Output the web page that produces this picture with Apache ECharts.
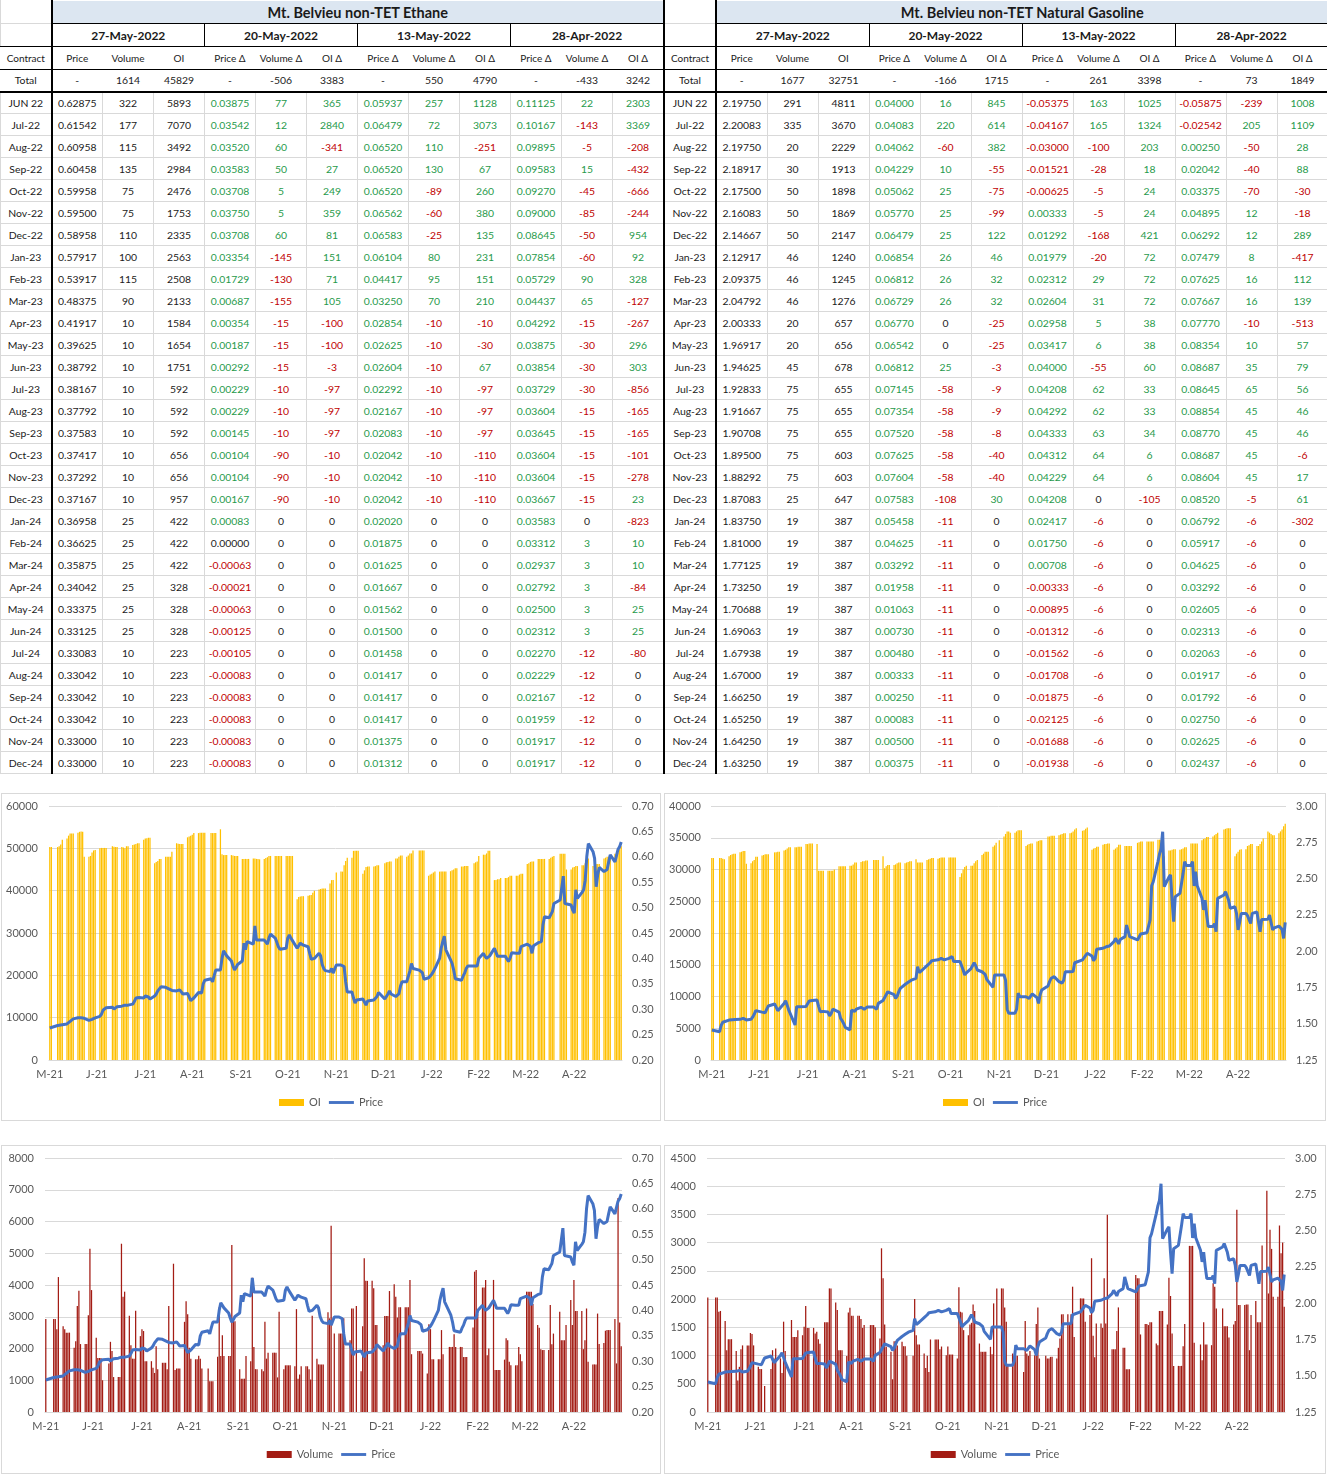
<!DOCTYPE html>
<html lang="en">
<head>
<meta charset="UTF-8" />
<title>Mt. Belvieu non-TET Ethane / Natural Gasoline</title>
<script src="https://cdn.jsdelivr.net/npm/echarts@6/dist/echarts.min.js"></script>
<style>
  body { margin: 0; background: #fff; }
  #page { position: relative; width: 1327px; height: 1475px; overflow: hidden; }
  table.grid {
    position: absolute; top: 0; border-collapse: collapse; table-layout: fixed;
    font-family: Lato, "Open Sans", sans-serif; color: #1a1a1a;
  }
  table.grid td { padding: 0; text-align: center; font-size: 10.4px; white-space: nowrap; overflow: hidden;
    border: 1px solid #d9d9d9; }
  table.grid td.c { border-right: 2px solid #000; }
  table.grid tr.title td.t { background: #dce6f1; font-weight: bold; font-size: 14.5px; border-bottom: 1px solid #000; }
  table.grid tr.dates td { font-weight: bold; font-size: 12px; border-bottom: 1px solid #000; }
  table.grid tr.dates td.d { border-right: 1px solid #000; }
  table.grid tr.head td { font-size: 10px; border-bottom: 1px solid #000; border-left-color: transparent; border-right-color: transparent; }
  table.grid tr.tot td { border-bottom: 2px solid #000; border-left-color: transparent; border-right-color: transparent; }
  table.grid tr.title td, table.grid tr.dates td { border-top-color: transparent; }
  table.grid tr.head td.c, table.grid tr.tot td.c { border-right: 2px solid #000; }
  .pos { color: #1f9a4b; }
  .neg { color: #c00000; }
  .box { position: absolute; box-sizing: border-box; border: 1px solid #d9d9d9; }
</style>
</head>
<body>
<div id="page">
  <table class="grid" id="t1" style="left:0;width:663px"></table>
  <table class="grid" id="t2" style="left:663px;width:664px"></table>
  <div class="box" id="c1" style="left:1px;top:793px;width:660px;height:328px"></div>
  <div class="box" id="c2" style="left:664px;top:793px;width:662px;height:328px"></div>
  <div class="box" id="c3" style="left:1px;top:1145px;width:660px;height:329px"></div>
  <div class="box" id="c4" style="left:664px;top:1145px;width:662px;height:329px"></div>
</div>
<script>
// ---------- table data ----------
const weekDates = ["27-May-2022", "20-May-2022", "13-May-2022", "28-Apr-2022"];
const contracts = ["JUN 22", "Jul-22", "Aug-22", "Sep-22", "Oct-22", "Nov-22", "Dec-22",
  "Jan-23", "Feb-23", "Mar-23", "Apr-23", "May-23", "Jun-23", "Jul-23", "Aug-23", "Sep-23",
  "Oct-23", "Nov-23", "Dec-23", "Jan-24", "Feb-24", "Mar-24", "Apr-24", "May-24", "Jun-24",
  "Jul-24", "Aug-24", "Sep-24", "Oct-24", "Nov-24", "Dec-24"];

// Total row: volume, OI, then (volume Δ, OI Δ) for each comparison date
const ethTotal = [1614, 45829, -506, 3383, 550, 4790, -433, 3242];
const ngTotal = [1677, 32751, -166, 1715, 261, 3398, 73, 1849];

// price, volume, OI | price Δ, volume Δ, OI Δ (20-May) | (13-May) | (28-Apr)
const ethRows = [
  [0.62875, 322, 5893, 0.03875, 77, 365, 0.05937, 257, 1128, 0.11125, 22, 2303],
  [0.61542, 177, 7070, 0.03542, 12, 2840, 0.06479, 72, 3073, 0.10167, -143, 3369],
  [0.60958, 115, 3492, 0.03520, 60, -341, 0.06520, 110, -251, 0.09895, -5, -208],
  [0.60458, 135, 2984, 0.03583, 50, 27, 0.06520, 130, 67, 0.09583, 15, -432],
  [0.59958, 75, 2476, 0.03708, 5, 249, 0.06520, -89, 260, 0.09270, -45, -666],
  [0.59500, 75, 1753, 0.03750, 5, 359, 0.06562, -60, 380, 0.09000, -85, -244],
  [0.58958, 110, 2335, 0.03708, 60, 81, 0.06583, -25, 135, 0.08645, -50, 954],
  [0.57917, 100, 2563, 0.03354, -145, 151, 0.06104, 80, 231, 0.07854, -60, 92],
  [0.53917, 115, 2508, 0.01729, -130, 71, 0.04417, 95, 151, 0.05729, 90, 328],
  [0.48375, 90, 2133, 0.00687, -155, 105, 0.03250, 70, 210, 0.04437, 65, -127],
  [0.41917, 10, 1584, 0.00354, -15, -100, 0.02854, -10, -10, 0.04292, -15, -267],
  [0.39625, 10, 1654, 0.00187, -15, -100, 0.02625, -10, -30, 0.03875, -30, 296],
  [0.38792, 10, 1751, 0.00292, -15, -3, 0.02604, -10, 67, 0.03854, -30, 303],
  [0.38167, 10, 592, 0.00229, -10, -97, 0.02292, -10, -97, 0.03729, -30, -856],
  [0.37792, 10, 592, 0.00229, -10, -97, 0.02167, -10, -97, 0.03604, -15, -165],
  [0.37583, 10, 592, 0.00145, -10, -97, 0.02083, -10, -97, 0.03645, -15, -165],
  [0.37417, 10, 656, 0.00104, -90, -10, 0.02042, -10, -110, 0.03604, -15, -101],
  [0.37292, 10, 656, 0.00104, -90, -10, 0.02042, -10, -110, 0.03604, -15, -278],
  [0.37167, 10, 957, 0.00167, -90, -10, 0.02042, -10, -110, 0.03667, -15, 23],
  [0.36958, 25, 422, 0.00083, 0, 0, 0.02020, 0, 0, 0.03583, 0, -823],
  [0.36625, 25, 422, 0.00000, 0, 0, 0.01875, 0, 0, 0.03312, 3, 10],
  [0.35875, 25, 422, -0.00063, 0, 0, 0.01625, 0, 0, 0.02937, 3, 10],
  [0.34042, 25, 328, -0.00021, 0, 0, 0.01667, 0, 0, 0.02792, 3, -84],
  [0.33375, 25, 328, -0.00063, 0, 0, 0.01562, 0, 0, 0.02500, 3, 25],
  [0.33125, 25, 328, -0.00125, 0, 0, 0.01500, 0, 0, 0.02312, 3, 25],
  [0.33083, 10, 223, -0.00105, 0, 0, 0.01458, 0, 0, 0.02270, -12, -80],
  [0.33042, 10, 223, -0.00083, 0, 0, 0.01417, 0, 0, 0.02229, -12, 0],
  [0.33042, 10, 223, -0.00083, 0, 0, 0.01417, 0, 0, 0.02167, -12, 0],
  [0.33042, 10, 223, -0.00083, 0, 0, 0.01417, 0, 0, 0.01959, -12, 0],
  [0.33000, 10, 223, -0.00083, 0, 0, 0.01375, 0, 0, 0.01917, -12, 0],
  [0.33000, 10, 223, -0.00083, 0, 0, 0.01312, 0, 0, 0.01917, -12, 0],
];

const ngRows = [
  [2.19750, 291, 4811, 0.04000, 16, 845, -0.05375, 163, 1025, -0.05875, -239, 1008],
  [2.20083, 335, 3670, 0.04083, 220, 614, -0.04167, 165, 1324, -0.02542, 205, 1109],
  [2.19750, 20, 2229, 0.04062, -60, 382, -0.03000, -100, 203, 0.00250, -50, 28],
  [2.18917, 30, 1913, 0.04229, 10, -55, -0.01521, -28, 18, 0.02042, -40, 88],
  [2.17500, 50, 1898, 0.05062, 25, -75, -0.00625, -5, 24, 0.03375, -70, -30],
  [2.16083, 50, 1869, 0.05770, 25, -99, 0.00333, -5, 24, 0.04895, 12, -18],
  [2.14667, 50, 2147, 0.06479, 25, 122, 0.01292, -168, 421, 0.06292, 12, 289],
  [2.12917, 46, 1240, 0.06854, 26, 46, 0.01979, -20, 72, 0.07479, 8, -417],
  [2.09375, 46, 1245, 0.06812, 26, 32, 0.02312, 29, 72, 0.07625, 16, 112],
  [2.04792, 46, 1276, 0.06729, 26, 32, 0.02604, 31, 72, 0.07667, 16, 139],
  [2.00333, 20, 657, 0.06770, 0, -25, 0.02958, 5, 38, 0.07770, -10, -513],
  [1.96917, 20, 656, 0.06542, 0, -25, 0.03417, 6, 38, 0.08354, 10, 57],
  [1.94625, 45, 678, 0.06812, 25, -3, 0.04000, -55, 60, 0.08687, 35, 79],
  [1.92833, 75, 655, 0.07145, -58, -9, 0.04208, 62, 33, 0.08645, 65, 56],
  [1.91667, 75, 655, 0.07354, -58, -9, 0.04292, 62, 33, 0.08854, 45, 46],
  [1.90708, 75, 655, 0.07520, -58, -8, 0.04333, 63, 34, 0.08770, 45, 46],
  [1.89500, 75, 603, 0.07625, -58, -40, 0.04312, 64, 6, 0.08687, 45, -6],
  [1.88292, 75, 603, 0.07604, -58, -40, 0.04229, 64, 6, 0.08604, 45, 17],
  [1.87083, 25, 647, 0.07583, -108, 30, 0.04208, 0, -105, 0.08520, -5, 61],
  [1.83750, 19, 387, 0.05458, -11, 0, 0.02417, -6, 0, 0.06792, -6, -302],
  [1.81000, 19, 387, 0.04625, -11, 0, 0.01750, -6, 0, 0.05917, -6, 0],
  [1.77125, 19, 387, 0.03292, -11, 0, 0.00708, -6, 0, 0.04625, -6, 0],
  [1.73250, 19, 387, 0.01958, -11, 0, -0.00333, -6, 0, 0.03292, -6, 0],
  [1.70688, 19, 387, 0.01063, -11, 0, -0.00895, -6, 0, 0.02605, -6, 0],
  [1.69063, 19, 387, 0.00730, -11, 0, -0.01312, -6, 0, 0.02313, -6, 0],
  [1.67938, 19, 387, 0.00480, -11, 0, -0.01562, -6, 0, 0.02063, -6, 0],
  [1.67000, 19, 387, 0.00333, -11, 0, -0.01708, -6, 0, 0.01917, -6, 0],
  [1.66250, 19, 387, 0.00250, -11, 0, -0.01875, -6, 0, 0.01792, -6, 0],
  [1.65250, 19, 387, 0.00083, -11, 0, -0.02125, -6, 0, 0.02750, -6, 0],
  [1.64250, 19, 387, 0.00500, -11, 0, -0.01688, -6, 0, 0.02625, -6, 0],
  [1.63250, 19, 387, 0.00375, -11, 0, -0.01938, -6, 0, 0.02437, -6, 0],
];

// ---------- chart data ----------
// one value per weekday, 27-May-2021 (Thu) .. 27-May-2022 (Fri); null = market holiday
const tickLabels = ["M-21", "J-21", "J-21", "A-21", "S-21", "O-21", "N-21", "D-21", "J-22", "F-22", "M-22", "A-22"];

const ethPrice = [
  0.263, 0.263,
  null, 0.268, 0.268, 0.269, 0.270,
  0.271, 0.273, 0.276, 0.279, 0.281,
  0.283, 0.283, 0.283, 0.282, 0.282,
  0.278, 0.277, 0.280, 0.282, 0.283,
  0.286, 0.290, 0.298, 0.301, 0.303,
  null, 0.304, 0.300, 0.303, 0.305,
  0.306, 0.307, 0.308, 0.308, 0.308,
  0.310, 0.315, 0.322, 0.323, 0.323,
  0.322, 0.326, 0.328, 0.324, 0.320,
  0.326, 0.330, 0.336, 0.340, 0.344,
  0.343, 0.341, 0.340, 0.338, 0.337,
  0.336, 0.337, 0.338, 0.334, 0.330,
  0.331, 0.328, 0.317, 0.318, 0.322,
  0.333, 0.331, 0.332, 0.350, 0.357,
  null, 0.360, 0.354, 0.366, 0.377,
  0.377, 0.400, 0.415, 0.410, 0.405,
  0.395, 0.385, 0.377, 0.382, 0.388,
  0.395, 0.430, 0.417, 0.433, 0.430,
  0.428, 0.464, 0.436, 0.436, 0.436,
  0.436, 0.432, 0.428, 0.440, 0.448,
  0.440, 0.432, 0.423, 0.418, 0.415,
  0.420, 0.440, 0.446, 0.440, 0.435,
  0.420, 0.425, 0.430, 0.428, 0.426,
  0.423, 0.410, 0.398, 0.397, 0.400,
  0.410, 0.405, 0.388, 0.380, 0.376,
  0.374, 0.380, 0.371, null, 0.387,
  0.387, 0.387, 0.384, 0.354, 0.334,
  0.334, 0.322, 0.312, 0.318, 0.318,
  0.320, 0.321, 0.308, 0.316, 0.318,
  0.318, 0.318, 0.325, 0.333, null,
  0.320, 0.318, 0.330, 0.336, 0.330,
  0.325, 0.325, 0.330, 0.345, 0.354,
  0.354, 0.356, 0.375, 0.390, 0.380,
  null, 0.377, 0.377, 0.372, 0.359,
  0.362, 0.365, 0.369, 0.374, 0.380,
  0.400, 0.420, 0.433, 0.444, 0.417,
  0.397, 0.390, 0.377, 0.360, 0.357,
  0.357, 0.365, 0.371, 0.380, 0.385,
  null, 0.385, 0.385, 0.385, 0.400,
  0.410, 0.404, 0.400, 0.400, 0.405,
  0.420, 0.423, 0.404, 0.405, 0.404,
  0.404, 0.404, 0.394, 0.400, 0.411,
  0.410, 0.410, 0.410, 0.423, 0.424,
  0.428, 0.428, 0.424, 0.410, 0.425,
  0.431, 0.433, 0.433, 0.466, 0.482,
  0.480, 0.480, 0.492, 0.508, null,
  0.515, 0.518, 0.562, 0.508, 0.505,
  0.505, 0.495, 0.489, 0.535, 0.518,
  0.530, 0.535, 0.554, 0.600, 0.626,
  0.610, 0.597, 0.541, 0.565, 0.579,
  0.571, 0.571, 0.575, 0.590, 0.604,
  0.590, 0.588, 0.615, 0.620, 0.629,
];

const ethOI = [
  50300, 50300,
  null, 50300, 50500, 50900, 52000,
  52300, 53000, 53500, 53500, 53500,
  53700, 53900, 54000, 53900, 48000,
  48000, 48200, 49000, 49500, 49600,
  50000, 50100, 50100, 50100, 50100,
  null, 50500, 50400, 50300, 50300,
  50300, 50200, 50000, 50500, 50500,
  50800, 50900, 51000, 51200, 51200,
  52000, 52300, 52400, 52500, 52500,
  46500, 46800, 47000, 47500, 47500,
  48000, 48000, 48000, 48000, 49200,
  51200, 51100, 51000, 51000, 51000,
  52600, 52800, 53000, 53200, 53600,
  53600, 53700, 53700, 53700, 53700,
  null, 53600, 53600, 53600, 53600,
  54500, 48600, 48400, 48400, 48400,
  48400, 48300, 48200, 48200, 48200,
  47500, 47500, 47500, 47500, 47500,
  47600, 47600, 47500, 47500, 47400,
  47500, 47700, 47900, 48200, 48200,
  48200, 48200, 48200, 48200, 48200,
  48200, 48200, 48200, 48200, 48200,
  38000, 38500, 38600, 38700, 38700,
  38800, 38900, 39000, 39500, 40000,
  40300, 40400, 40500, 40500, 40500,
  41700, 42500, 42500, null, 44300,
  44500, 44500, 46000, 47000, 47800,
  47800, 49400, 49400, 49400, 49400,
  44000, 44800, 45600, 45700, 45700,
  45700, 45800, 46000, 46000, null,
  46500, 46700, 46800, 46900, 46900,
  47600, 47600, 48000, 48300, 48300,
  48000, 48300, 48800, 48800, 49500,
  null, 49500, 49500, 49500, 49500,
  43500, 43800, 44000, 44300, 44500,
  44500, 44500, 44500, 44500, 44500,
  44600, 44800, 45000, 45300, 45300,
  45700, 45700, 45800, 45800, 45800,
  null, 46500, 46700, 46900, 48200,
  48500, 48500, 48800, 49400, 49400,
  42500, 42500, 42700, 42700, 43000,
  43000, 43000, 43200, 43500, 43500,
  43500, 43500, 43800, 44000, 44000,
  46300, 46500, 46800, 46900, 46900,
  47500, 47500, 47500, 47500, 47500,
  47500, 47800, 48000, 48200, null,
  48700, 48700, 48700, 48700, 45000,
  45000, 45500, 45600, 45800, 45800,
  46000, 46000, 46500, 47000, 47600,
  45800, 46000, 46300, 46300, 46300,
  47600, 47800, 48000, 48000, 48000,
  48700, 48700, 49000, 49800, 50500,
];

const ethVolume = [
  2930, 0,
  null, 2930, 2930, 2610, 4250,
  2700, 2610, 2500, 2500, 2500,
  2020, 2230, 3340, 3820, 2140,
  2140, 2140, 3050, 5140, 3840,
  2340, 1700, 1700, 1700, 1000,
  null, 1530, 2210, 1920, 1100,
  1100, 1100, 5300, 3630, 3790,
  3030, 2100, 1680, 1680, 3190,
  2390, 2610, 2550, 1600, 1600,
  1600, 1390, 1230, 2070, 1350,
  1550, 1550, 1550, 1350, 3340,
  4670, 1320, 1370, 1370, 1370,
  2840, 3490, 3080, 2020, 1680,
  1660, 1660, 1770, 1680, 1370,
  null, 1370, 970, 970, 970,
  1740, 3300, 1760, 2420, 1760,
  1760, 1760, 5260, 2950, 2860,
  1350, 1050, 1050, 1050, 1760,
  1600, 4230, 2050, 1350, 1350,
  1350, 1280, 2840, 1680, 1870,
  1870, 1870, 1870, 1090, 3160,
  1350, 1470, 1470, 1470, 1470,
  1440, 3240, 1050, 1180, 1440,
  1440, 1440, 1350, 1020, 3030,
  1680, 1500, 1500, 1500, 1500,
  3140, 2950, 5870, null, 2470,
  2470, 2470, 2470, 2950, 0,
  2260, 3260, 3260, 0, 3340,
  1280, 2700, 4840, 4130, 4130,
  4130, 3900, 2740, 2740, null,
  2100, 3020, 3020, 3020, 3810,
  4020, 3630, 2980, 3300, 3300,
  3300, 3300, 3300, 4160, 1820,
  null, 1920, 1920, 1920, 1840,
  1210, 2760, 2610, 1660, 1660,
  1660, 1660, 2580, 1820, 0,
  2050, 2050, 2050, 2450, 2050,
  2050, 2050, 1730, 1730, 1730,
  null, 2660, 4420, 4470, 3080,
  3920, 3920, 4160, 1790, 2000,
  4160, 1320, 1320, 1320, 1320,
  1650, 2320, 2260, 1580, 1470,
  1470, 1470, 2050, 1820, 1600,
  3790, 3790, 3790, 3790, 3400,
  2740, 2650, 1980, 1950, 1950,
  1950, 3370, 2130, 2470, null,
  3160, 2260, 2260, 2260, 2740,
  3530, 2740, 4160, 3180, 3180,
  3180, 1980, 2260, 3260, 1580,
  1500, 1500, 1500, 3100, 2140,
  2170, 2560, 2580, 2580, 2580,
  2930, 1530, 6740, 2820, 2070,
];

const ngPrice = [
  1.457, 1.455,
  null, 1.445, 1.490, 1.510, 1.520,
  1.525, 1.526, 1.527, 1.528, 1.529,
  1.530, 1.532, 1.537, 1.535, 1.526,
  1.530, 1.545, 1.565, 1.590, 1.594,
  1.580, 1.576, 1.576, 1.600, 1.622,
  null, 1.636, 1.630, 1.590, 1.600,
  1.640, 1.659, 1.650, 1.594, 1.594,
  1.491, 1.617, 1.617, 1.617, 1.617,
  1.618, 1.620, 1.657, 1.659, 1.660,
  1.663, 1.620, 1.583, 1.583, 1.585,
  1.580, 1.553, 1.570, 1.600, 1.595,
  1.580, 1.537, 1.520, 1.500, 1.475,
  1.457, 1.594, 1.590, 1.585, 1.600,
  1.613, 1.610, 1.600, 1.612, 1.615,
  null, 1.615, 1.610, 1.600, 1.640,
  1.660, 1.668, 1.700, 1.720, 1.720,
  1.700, 1.675, 1.690, 1.720, 1.744,
  1.770, 1.778, 1.785, 1.790, 1.800,
  1.813, 1.893, 1.852, 1.860, 1.870,
  1.900, 1.910, 1.920, 1.934, 1.935,
  1.940, 1.950, 1.950, 1.945, 1.940,
  1.950, 1.955, 1.962, 1.928, 1.928,
  1.928, 1.930, 1.870, 1.836, 1.850,
  1.880, 1.900, 1.920, 1.900, 1.870,
  1.858, 1.858, 1.840, 1.806, 1.806,
  1.750, 1.836, 1.836, null, 1.836,
  1.836, 1.800, 1.600, 1.572, 1.572,
  1.572, 1.600, 1.710, 1.686, 1.686,
  1.686, 1.686, 1.675, 1.680, 1.705,
  1.680, 1.640, 1.700, 1.732, null,
  1.760, 1.790, 1.813, 1.820, 1.824,
  1.790, 1.785, 1.780, 1.800, 1.858,
  1.858, 1.850, 1.860, 1.920, 1.920,
  null, 1.940, 1.955, 1.970, 1.985,
  1.966, 1.934, 1.950, 2.013, 2.015,
  2.020, 2.025, 2.030, 2.030, 2.035,
  2.065, 2.088, 2.070, 2.050, 2.080,
  2.100, 2.180, 2.140, 2.100, 2.090,
  null, 2.077, 2.080, 2.118, 2.118,
  2.127, 2.130, 2.215, 2.450, 2.478,
  2.617, 2.670, 2.708, 2.823, 2.444,
  2.510, 2.525, 2.350, 2.203, 2.375,
  2.398, 2.400, 2.536, 2.617, 2.590,
  2.590, 2.617, 2.449, 2.548, 2.450,
  2.364, 2.284, 2.352, 2.250, 2.169,
  2.169, 2.190, 2.134, 2.364, null,
  2.387, 2.410, 2.410, 2.350, 2.295,
  2.306, 2.260, 2.146, 2.200, 2.260,
  2.260, 2.245, 2.242, 2.190, 2.260,
  2.270, 2.260, 2.134, 2.218, 2.218,
  2.220, 2.249, 2.260, 2.146, 2.160,
  2.173, 2.165, 2.150, 2.088, 2.1975,
];

const ngOI = [
  31800, 31800,
  null, 31800, 31800, 31700, 31600,
  32100, 32300, 32400, 32500, 32500,
  32700, 32800, 32900, 32900, 30900,
  31000, 31300, 31500, 32000, 32000,
  32200, 32300, 32400, 32400, 32400,
  null, 32700, 32700, 32800, 32800,
  33000, 33100, 33300, 33500, 33500,
  33500, 33500, 33600, 33600, 33600,
  34000, 34000, 34100, 34100, 34100,
  34000, 29800, 29800, 29800, 29800,
  29800, 29800, 29800, 29800, 30000,
  30500, 30500, 30500, 30500, 30500,
  30600, 30600, 30800, 31100, 31100,
  31200, 31300, 31300, 31400, 31400,
  null, 31500, 31500, 31500, 31500,
  32100, 30200, 30500, 30700, 30700,
  30700, 30800, 31000, 31100, 31100,
  31000, 31100, 31200, 31300, 31300,
  31600, 31100, 31100, 31100, 31100,
  31500, 31600, 31700, 31800, 31800,
  31700, 31800, 31900, 31900, 31900,
  31900, 31900, 31900, 31900, 31900,
  28800, 29400, 30000, 30400, 30600,
  30600, 30600, 31000, 31300, 31500,
  32300, 32500, 32800, 32800, 32800,
  33600, 33800, 34200, null, 34600,
  35200, 35600, 36000, 36000, 35800,
  35800, 36000, 36200, 36200, 36200,
  33700, 33900, 34000, 34100, 34100,
  34400, 34500, 34600, 34600, null,
  35200, 35200, 35300, 35300, 35300,
  35400, 35500, 35600, 35700, 35700,
  35700, 35800, 36000, 36300, 36500,
  null, 36100, 36200, 36400, 36600,
  33100, 33300, 33400, 33600, 33600,
  33900, 34000, 34000, 34100, 34100,
  33100, 33300, 33500, 33900, 33900,
  33700, 33700, 33700, 33700, 33700,
  null, 34200, 34300, 34400, 34400,
  34400, 34400, 34400, 34400, 34400,
  34700, 34700, 34700, 32100, 32100,
  33000, 33000, 33100, 33200, 33200,
  33100, 33200, 33300, 33500, 33500,
  34100, 34100, 34100, 34100, 34100,
  34600, 34800, 34900, 35100, 35100,
  35200, 35400, 35600, 35800, null,
  36300, 36400, 36500, 36500, 36500,
  32100, 32500, 32800, 33100, 33200,
  33200, 33700, 33800, 34000, 34000,
  33700, 33700, 34000, 34400, 34900,
  36000, 35800, 35600, 35400, 35400,
  35700, 36000, 36300, 36800, 37200,
];

const ngVolume = [
  2030, 0,
  null, 2030, 2030, 1776, 1790,
  1610, 1095, 1290, 1290, 1290,
  1080, 560, 800, 1110, 1180,
  1180, 1180, 1400, 1380, 1180,
  800, 760, 760, 0, 460,
  null, 760, 1095, 950, 1125,
  950, 690, 1600, 1080, 0,
  1630, 1330, 1330, 1330, 1450,
  1360, 1510, 1877, 1490, 1490,
  1490, 1390, 1420, 1290, 1210,
  1590, 1590, 1590, 2190, 2190,
  1940, 1805, 1095, 1095, 1095,
  990, 1765, 1847, 1705, 1705,
  1705, 1705, 1646, 1490, 1540,
  null, 1540, 1540, 1540, 1500,
  1300, 2900, 2370, 1550, 1155,
  1066, 580, 1255, 1255, 1180,
  1243, 1166, 1166, 995, 0,
  995, 2000, 1360, 1196, 1196,
  1036, 780, 995, 710, 1285,
  1285, 1285, 1285, 1113, 1160,
  1006, 1160, 1018, 1018, 1018,
  947, 2208, 1776, 1765, 1450,
  1360, 1550, 1580, 1906, 1790,
  1213, 1066, 1066, 1066, 1066,
  1155, 1024, 1924, null, 2190,
  2190, 2190, 1853, 1600, 840,
  1036, 995, 995, 995, 0,
  710, 1610, 1036, 995, 1080,
  1006, 1557, 1853, 947, null,
  995, 947, 947, 977, 977,
  947, 1137, 1300, 1730, 1730,
  1730, 1540, 1730, 2220, 1330,
  null, 2013, 2013, 2013, 1600,
  1717, 2724, 1350, 970, 1570,
  1570, 1490, 2370, 1570, 3493,
  1113, 1113, 1113, 1433, 1853,
  1137, 1137, 758, 758, 758,
  null, 2428, 2370, 2370, 1374,
  1557, 1557, 1540, 1590, 1590,
  1213, 1184, 1790, 1790, 1790,
  1550, 2380, 2055, 1390, 817,
  817, 817, 817, 1166, 1557,
  2943, 2943, 2943, 1225, 0,
  1196, 918, 1590, 1196, 1196,
  1184, 2280, 2220, 1835, null,
  1835, 1520, 1520, 1520, 1320,
  1550, 1610, 3582, 1895, 1895,
  1895, 1906, 1906, 1095, 1717,
  1966, 1590, 1590, 1590, 2949,
  3920, 2100, 3227, 2890, 2043,
  2043, 3304, 2812, 3002, 1865,
];

// ---------- tables ----------
function fmtCell(v, col) {
  const isPrice = col % 3 === 0;
  const txt = isPrice ? v.toFixed(5) : String(v);
  let cls = "";
  if (col >= 3) cls = v > 0 ? "pos" : v < 0 ? "neg" : "";
  return `<td class="${cls}">${txt}</td>`;
}

function buildTable(id, title, total, rows, leftEdge) {
  const lc = leftEdge ? ' style="border-left:2px solid #000"' : "";
  let html = '<colgroup><col style="width:' + (leftEdge ? 52 : 51) + 'px">';
  for (let i = 0; i < 12; i++) html += '<col style="width:51px">';
  html += "</colgroup>";
  html += `<tr class="title" style="height:23px"><td class="c"${lc}></td><td class="t" colspan="12">${title}</td></tr>`;
  html += `<tr class="dates" style="height:23px"><td class="c"${lc}></td>`;
  weekDates.forEach((d, i) => {
    html += `<td colspan="3" class="${i < 3 ? "d" : ""}">${d}</td>`;
  });
  html += "</tr>";
  const heads = ["Price", "Volume", "OI", "Price \u0394", "Volume \u0394", "OI \u0394",
    "Price \u0394", "Volume \u0394", "OI \u0394", "Price \u0394", "Volume \u0394", "OI \u0394"];
  html += `<tr class="head" style="height:23px"><td class="c"${lc}>Contract</td>` +
    heads.map(h => `<td>${h}</td>`).join("") + "</tr>";
  html += `<tr class="tot" style="height:22px"><td class="c"${lc}>Total</td>` +
    `<td>-</td><td>${total[0]}</td><td>${total[1]}</td>` +
    `<td>-</td><td>${total[2]}</td><td>${total[3]}</td>` +
    `<td>-</td><td>${total[4]}</td><td>${total[5]}</td>` +
    `<td>-</td><td>${total[6]}</td><td>${total[7]}</td></tr>`;
  rows.forEach((r, i) => {
    html += `<tr style="height:22px"><td class="c"${lc}>${contracts[i]}</td>` +
      r.map((v, c) => fmtCell(v, c)).join("") + "</tr>";
  });
  document.getElementById(id).innerHTML = html;
}

buildTable("t1", "Mt. Belvieu non-TET Ethane", ethTotal, ethRows, false);
buildTable("t2", "Mt. Belvieu non-TET Natural Gasoline", ngTotal, ngRows, true);

// ---------- charts ----------
const nDays = 366;      // calendar days on the date axis
const startDow = 4;     // 27-May-2021 was a Thursday
const dayIdx = Array.from({ length: nDays }, (_, i) => i);
const labelIdx = tickLabels.map((_, k) => Math.round(k * 30.44));

// spread weekday values over the calendar axis, weekends left empty
function toDaily(values) {
  const out = [];
  let k = 0;
  for (let i = 0; i < nDays; i++) {
    const dow = (startDow + i) % 7;
    if (dow === 0 || dow === 6) out.push(null);
    else { out.push(k < values.length ? values[k] : null); k++; }
  }
  return out;
}

const axisText = { color: "#595959", fontSize: 11, fontFamily: "Lato, sans-serif" };

function makeChart(id, cfg) {
  const chart = echarts.init(document.getElementById(id));
  chart.setOption({
    animation: false,
    grid: cfg.grid,
    legend: {
      top: cfg.legendTop, left: "center", itemGap: 8, itemWidth: 25, itemHeight: 7,
      textStyle: axisText,
      data: [
        { name: cfg.barName, icon: "rect" },
        { name: "Price", icon: "path://M0,0H26V3H0Z" },
      ],
    },
    xAxis: {
      type: "category", data: dayIdx, boundaryGap: true,
      axisLine: { lineStyle: { color: "#d9d9d9" } },
      axisTick: { alignWithLabel: true, length: 5, interval: i => labelIdx.includes(i), lineStyle: { color: "#d9d9d9" } },
      axisLabel: Object.assign({
        margin: 9,
        interval: i => labelIdx.includes(i),
        formatter: (v, i) => tickLabels[labelIdx.indexOf(i)],
      }, axisText),
    },
    yAxis: [
      {
        type: "value", min: 0, max: cfg.leftMax, interval: cfg.leftStep,
        axisLine: { show: false }, axisTick: { show: false },
        axisLabel: Object.assign({ margin: cfg.leftMargin, formatter: v => String(v) }, axisText),
        splitLine: { lineStyle: { color: "#d9d9d9" } },
      },
      {
        type: "value", position: "right", min: cfg.rightMin, max: cfg.rightMax, interval: cfg.rightStep,
        axisLine: { show: false }, axisTick: { show: false },
        axisLabel: Object.assign({ margin: 10, formatter: v => v.toFixed(2) }, axisText),
        splitLine: { show: false },
      },
    ],
    series: [
      {
        name: cfg.barName, type: "bar", yAxisIndex: 0, barWidth: "80%",
        itemStyle: { color: cfg.barColor }, data: toDaily(cfg.bars),
      },
      {
        name: "Price", type: "line", yAxisIndex: 1, symbol: "none", showSymbol: false, connectNulls: true,
        lineStyle: { width: 3, color: "#4472C4" }, itemStyle: { color: "#4472C4" },
        data: toDaily(cfg.price),
      },
    ],
  });
}

makeChart("c1", {
  grid: { left: 47, right: 38, top: 12, bottom: 60 }, legendTop: 298,
  barName: "OI", barColor: "#FFC000", bars: ethOI, price: ethPrice,
  leftMax: 60000, leftStep: 10000, leftMargin: 11, rightMin: 0.2, rightMax: 0.7, rightStep: 0.05,
});
makeChart("c2", {
  grid: { left: 46, right: 39, top: 12, bottom: 60 }, legendTop: 298,
  barName: "OI", barColor: "#FFC000", bars: ngOI, price: ngPrice,
  leftMax: 40000, leftStep: 5000, leftMargin: 10, rightMin: 1.25, rightMax: 3.0, rightStep: 0.25,
});
makeChart("c3", {
  grid: { left: 43, right: 38, top: 12, bottom: 61 }, legendTop: 298,
  barName: "Volume", barColor: "#A31C14", bars: ethVolume, price: ethPrice,
  leftMax: 8000, leftStep: 1000, leftMargin: 11, rightMin: 0.2, rightMax: 0.7, rightStep: 0.05,
});
makeChart("c4", {
  grid: { left: 42, right: 40, top: 12, bottom: 61 }, legendTop: 298,
  barName: "Volume", barColor: "#A31C14", bars: ngVolume, price: ngPrice,
  leftMax: 4500, leftStep: 500, leftMargin: 11, rightMin: 1.25, rightMax: 3.0, rightStep: 0.25,
});
</script>
</body>
</html>
